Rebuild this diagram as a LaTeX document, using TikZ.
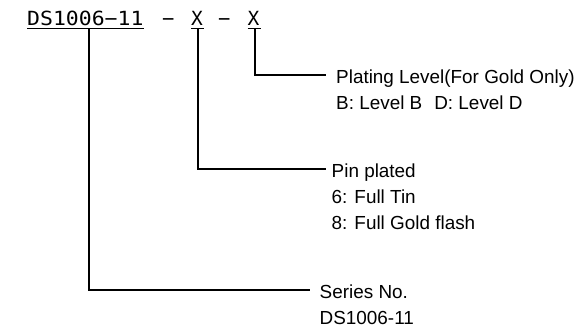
\documentclass[tikz,border=0pt]{standalone}
\usepackage{fontspec}
\setmainfont{Liberation Sans}
\newfontfamily\titlefont{DejaVu Sans Mono}
\begin{document}
\begin{tikzpicture}[x=1pt,y=1pt,
  conn/.style={line width=1.9pt, line join=miter},
  uline/.style={line width=1.3pt},
  ttl/.style={inner sep=0pt, anchor=base west, font=\titlefont\fontsize{19.5}{20}\selectfont},
  lbl/.style={inner sep=0pt, anchor=base west, font=\fontsize{18.9}{26}\selectfont}]
\useasboundingbox[fill=white] (0,0) rectangle (585,334);
% title
\node[ttl] (t1) at (27,308) {\scalebox{1.1}[1]{DS1006−11}};
\node[ttl] (m1) at (162,308) {\scalebox{1.05}[1]{−}};
\node[ttl] (x1) at (191,308) {X};
\node[ttl] (m2) at (218,308) {\scalebox{1.05}[1]{−}};
\node[ttl] (x2) at (247.5,308) {X};
% underlines
\draw[uline] (27,305.5) -- (144,305.5);
\draw[uline] (191,305.5) -- (204,305.5);
\draw[uline] (247.5,305.5) -- (260.5,305.5);
% connector points
\coordinate (u1) at (89,305.5);
\coordinate (u2) at (198,305.5);
\coordinate (u3) at (255,305.5);
\coordinate (k1) at (89,44);
\coordinate (k2) at (198,165);
\coordinate (k3) at (255,259);
\coordinate (e1) at (310,44);
\coordinate (e2) at (326,165);
\coordinate (e3) at (326,259);
\draw[conn] (u1) -- (k1) -- (e1);
\draw[conn] (u2) -- (k2) -- (e2);
\draw[conn] (u3) -- (k3) -- (e3);
% labels
\node[lbl] (p1) at (336,250) {Plating Level(For Gold Only)};
\node[lbl] (p2) at (336,224) {B: Level B\hspace{12pt}D: Level D};
\node[lbl] (q1) at (331.5,156) {Pin plated};
\node[lbl] (q2) at (331.5,130) {6: Full Tin};
\node[lbl] (q3) at (331.5,104) {8: Full Gold flash};
\node[lbl] (s1) at (319.5,35.5) {Series No.};
\node[lbl] (s2) at (319.5,9.5) {DS1006-11};
\end{tikzpicture}
\end{document}
